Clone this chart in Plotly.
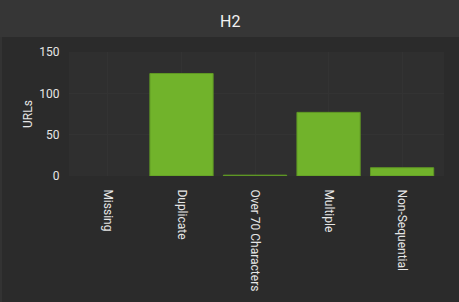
import plotly.graph_objects as go

# H2 issue counts per category
categories = ["Missing", "Duplicate", "Over 70 Characters", "Multiple", "Non-Sequential"]
urls = [0, 124, 1, 77, 10]
y_ticks = [0, 50, 100, 150]

W, H = 459, 302
L, R, T, B = 69, 15, 52, 126
plot_w = W - L - R
plot_h = H - T - B

def px_x(px):
    return (px - L) / plot_w

def px_y(py):
    return (H - B - py) / plot_h

# no outline on empty bars so a zero count leaves no mark
outline_w = [1 if v > 0 else 0 for v in urls]

fig = go.Figure(
    go.Bar(
        x=categories,
        y=urls,
        width=0.86,
        marker=dict(color="#71b32b", line=dict(color="#5f9824", width=outline_w)),
        hovertemplate="%{x}: %{y}<extra></extra>",
    )
)

# title band across the top of the panel
fig.add_shape(type="rect", xref="paper", yref="paper",
              x0=px_x(0), x1=px_x(W), y0=px_y(37), y1=px_y(0),
              fillcolor="#363636", line=dict(width=0), layer="below")
# thin left border of the panel
fig.add_shape(type="rect", xref="paper", yref="paper",
              x0=px_x(0), x1=px_x(2), y0=px_y(H), y1=px_y(37),
              fillcolor="#333333", line=dict(width=0), layer="below")

fig.add_annotation(text="H2", xref="paper", yref="paper",
                   x=px_x(230), y=px_y(21), showarrow=False,
                   font=dict(family="Roboto", size=16, color="#f2f2f2"),
                   xanchor="center", yanchor="middle")

fig.update_layout(
    width=W, height=H,
    margin=dict(l=L, r=R, t=T, b=B),
    paper_bgcolor="#2b2b2b",
    plot_bgcolor="#2f2f2f",
    font=dict(family="Roboto", size=12, color="#e6e6e6"),
    showlegend=False,
    bargap=0.14,
)
fig.update_xaxes(
    range=[-0.53, 4.57],
    tickangle=90,
    showgrid=True, gridcolor="#333333", gridwidth=1,
    ticks="outside", ticklen=10, tickcolor="rgba(0,0,0,0)",
    showline=False, zeroline=False,
    tickfont=dict(size=12, color="#e6e6e6"),
)
fig.update_yaxes(
    range=[0, 150],
    tickvals=y_ticks,
    showgrid=True, gridcolor="#333333", gridwidth=1,
    zeroline=False, showline=False,
    ticks="outside", ticklen=6, tickcolor="rgba(0,0,0,0)",
    title=dict(text="URLs", font=dict(size=12, color="#e6e6e6"), standoff=4),
    tickfont=dict(size=12, color="#e6e6e6"),
)

fig.write_html("out.html")
